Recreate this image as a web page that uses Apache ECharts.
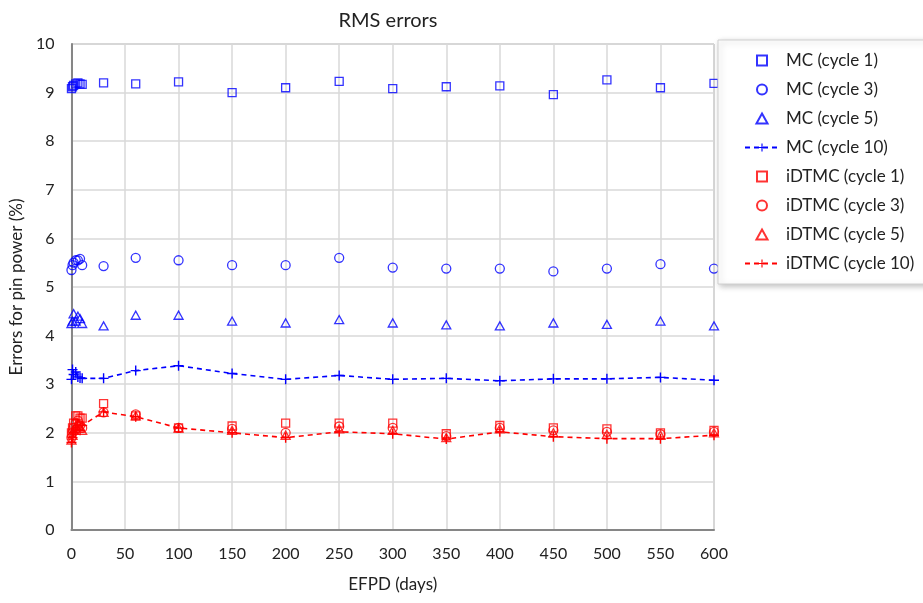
<!DOCTYPE html>
<html><head><meta charset="utf-8">
<script src="https://cdn.jsdelivr.net/npm/echarts@6/dist/echarts.min.js"></script>
<style>html,body{margin:0;padding:0;background:#fff}#c{width:923px;height:603px}</style>
</head><body><div id="c"></div>
<script>
const days = [0, 1, 2, 4, 6, 8, 10, 30, 60, 100, 150, 200, 250, 300, 350, 400, 450, 500, 550, 600];
const mcCycle1 = [9.08, 9.12, 9.15, 9.18, 9.2, 9.18, 9.17, 9.2, 9.18, 9.22, 9.0, 9.1, 9.23, 9.08, 9.12, 9.14, 8.96, 9.26, 9.1, 9.19];
const mcCycle3 = [5.35, 5.45, 5.5, 5.55, 5.55, 5.58, 5.45, 5.43, 5.6, 5.55, 5.45, 5.45, 5.6, 5.4, 5.38, 5.38, 5.32, 5.38, 5.47, 5.38];
const mcCycle5 = [4.25, 4.3, 4.45, 4.3, 4.4, 4.35, 4.25, 4.2, 4.42, 4.42, 4.3, 4.26, 4.33, 4.26, 4.22, 4.2, 4.26, 4.23, 4.3, 4.2];
const mcCycle10 = [3.1, 3.3, 3.2, 3.25, 3.15, 3.13, 3.12, 3.12, 3.28, 3.38, 3.22, 3.1, 3.18, 3.1, 3.12, 3.07, 3.11, 3.11, 3.14, 3.08];
const idCycle1 = [2.0, 2.1, 2.2, 2.35, 2.35, 2.3, 2.3, 2.6, 2.35, 2.1, 2.14, 2.2, 2.2, 2.2, 1.98, 2.15, 2.1, 2.08, 2.0, 2.05];
const idCycle3 = [1.9, 2.0, 2.1, 2.2, 2.25, 2.15, 2.1, 2.42, 2.38, 2.1, 2.08, 2.0, 2.13, 2.1, 1.93, 2.1, 2.05, 2.02, 1.97, 2.02];
const idCycle5 = [1.85, 1.95, 2.05, 2.15, 2.2, 2.1, 2.05, 2.42, 2.35, 2.1, 2.05, 1.95, 2.08, 2.05, 1.9, 2.08, 2.0, 1.97, 1.95, 2.0];
const idCycle10 = [1.8, 1.9, 2.0, 2.05, 2.15, 2.05, 2.15, 2.43, 2.33, 2.1, 2.0, 1.9, 2.02, 1.98, 1.87, 2.02, 1.92, 1.88, 1.88, 1.95];

const FONT = 'Lato';
const BLUE = '#0000ff', RED = '#ff0000';
const PLUS = 'path://M4.3,0h1.4v4.3h4.3v1.4h-4.3v4.3h-1.4v-4.3h-4.3v-1.4h4.3z';
const SQUARE = 'path://M0,0H10V10H0Z';
const TRI = 'path://M5,0L10,9H0Z';
const pairs = v => days.map((d, i) => [d, v[i]]);

function scat(name, vals, color, symbol, size) {
  return {
    name, type: 'scatter', data: pairs(vals), symbol, symbolSize: size,
    symbolKeepAspect: true,
    itemStyle: { color: 'rgba(255,255,255,0)', borderColor: color, borderWidth: 1.3 },
    z: 3
  };
}
function dline(name, vals, color) {
  return {
    name, type: 'line', data: pairs(vals), symbol: PLUS, symbolSize: 10,
    showSymbol: true,
    lineStyle: { color, width: 1.6, type: [5, 4] },
    itemStyle: { color, borderWidth: 0 },
    z: 2
  };
}

const chart = echarts.init(document.getElementById('c'), null, { renderer: 'canvas' });
chart.setOption({
  animation: false,
  textStyle: { fontFamily: FONT },
  title: {
    text: 'RMS errors', left: 383, top: 6, textAlign: 'center',
    textStyle: { fontFamily: FONT, fontSize: 20, fontWeight: 'normal', color: '#222' }
  },
  grid: { left: 70, right: 209, top: 44, bottom: 73, show: true, borderColor: '#a6a6a6', borderWidth: 1 },
  xAxis: {
    type: 'value', min: 0, max: 600, interval: 50,
    name: 'EFPD (days)', nameLocation: 'middle', nameGap: 46,
    nameTextStyle: { fontFamily: FONT, fontSize: 17, color: '#222' },
    axisLine: { show: true, lineStyle: { color: '#868686', width: 2 } },
    axisTick: { show: false },
    axisLabel: { fontFamily: FONT, fontSize: 16, color: '#222', margin: 16 },
    splitLine: { show: true, lineStyle: { color: '#d9d9d9', width: 1.5 } }
  },
  yAxis: {
    type: 'value', min: 0, max: 10, interval: 1,
    name: 'Errors for pin power (%)', nameLocation: 'middle', nameGap: 42,
    nameTextStyle: { fontFamily: FONT, fontSize: 17, color: '#222' },
    axisLine: { show: true, lineStyle: { color: '#868686', width: 2 } },
    axisTick: { show: false },
    axisLabel: { fontFamily: FONT, fontSize: 16, color: '#222', margin: 17 },
    splitLine: { show: true, lineStyle: { color: '#d9d9d9', width: 1.5 } }
  },
  legend: {
    orient: 'vertical', left: 718, top: 40,
    padding: [12, 20, 12, 26], itemGap: 12, itemWidth: 34, itemHeight: 10,
    symbolKeepAspect: true,
    backgroundColor: '#fff', borderColor: '#d0d0d0', borderWidth: 1,
    shadowColor: 'rgba(0,0,0,0.25)', shadowBlur: 6, shadowOffsetX: 2, shadowOffsetY: 2,
    textStyle: { fontFamily: FONT, fontSize: 17, color: '#222', padding: [0, 0, 0, 2] },
    data: ['MC (cycle 1)', 'MC (cycle 3)', 'MC (cycle 5)', 'MC (cycle 10)',
           'iDTMC (cycle 1)', 'iDTMC (cycle 3)', 'iDTMC (cycle 5)', 'iDTMC (cycle 10)']
  },
  series: [
    scat('MC (cycle 1)', mcCycle1, BLUE, SQUARE, 8),
    scat('MC (cycle 3)', mcCycle3, BLUE, 'circle', 9),
    scat('MC (cycle 5)', mcCycle5, BLUE, TRI, 9),
    dline('MC (cycle 10)', mcCycle10, BLUE),
    scat('iDTMC (cycle 1)', idCycle1, RED, SQUARE, 8),
    scat('iDTMC (cycle 3)', idCycle3, RED, 'circle', 9),
    scat('iDTMC (cycle 5)', idCycle5, RED, TRI, 9),
    dline('iDTMC (cycle 10)', idCycle10, RED)
  ]
});
</script></body></html>
